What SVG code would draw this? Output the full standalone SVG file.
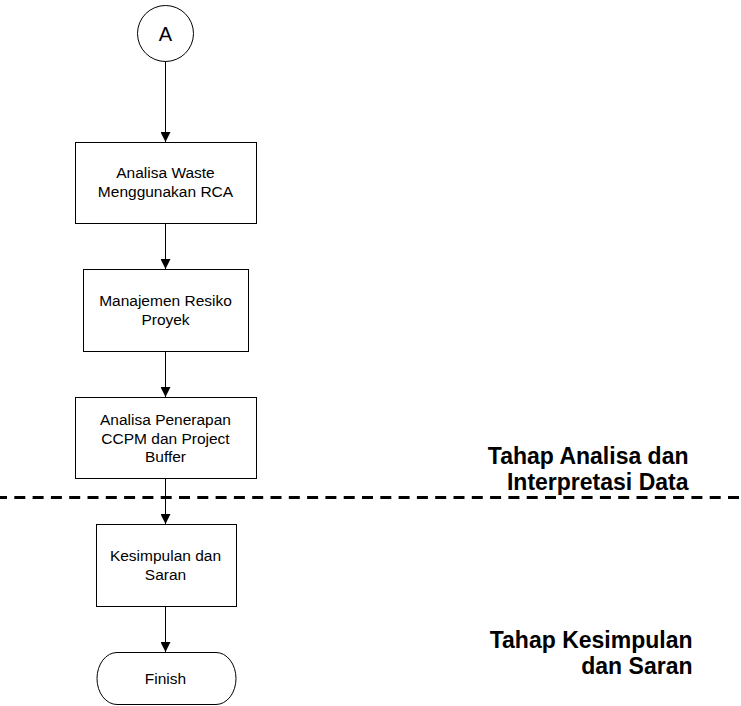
<svg xmlns="http://www.w3.org/2000/svg" width="741" height="706" viewBox="0 0 741 706">
  <defs>
    <marker id="arrow" viewBox="0 0 10 10" refX="10" refY="5" markerWidth="10" markerHeight="10" markerUnits="userSpaceOnUse" orient="auto">
      <path d="M0,0 L10,5 L0,10 Z" fill="#000"/>
    </marker>
    <style>
      .shape { fill: #fff; stroke: #000; stroke-width: 1; }
      .label { font-family: "Liberation Sans", Arial, sans-serif; font-size: 15.5px; fill: #000; text-anchor: middle; }
      .phase { font-family: "Liberation Sans", Arial, sans-serif; font-size: 23px; font-weight: bold; fill: #000; text-anchor: end; }
      .flow { stroke: #000; stroke-width: 1; fill: none; marker-end: url(#arrow); }
    </style>
  </defs>
  <rect width="741" height="706" fill="#fff"/>

  <!-- phase separator -->
  <line x1="0" y1="497.5" x2="741" y2="497.5" stroke="#000" stroke-width="3" stroke-dasharray="11 7.3" stroke-dashoffset="4"/>

  <g id="connectors">
    <line class="flow" x1="165.5" y1="61" x2="165.5" y2="142"/>
    <line class="flow" x1="165.5" y1="223" x2="165.5" y2="269"/>
    <line class="flow" x1="165.5" y1="351" x2="165.5" y2="397"/>
    <line class="flow" x1="165.5" y1="478" x2="165.5" y2="524"/>
    <line class="flow" x1="165.5" y1="606" x2="165.5" y2="652"/>
  </g>

  <g id="connector-a">
    <circle class="shape" cx="165.5" cy="33.5" r="28"/>
    <text class="label" x="165.5" y="41" style="font-size:20px">A</text>
  </g>

  <g id="analisa-waste">
    <rect class="shape" x="75.5" y="142.5" width="181" height="81"/>
    <text class="label" x="165.5" y="178">Analisa Waste</text>
    <text class="label" x="165.5" y="196.5">Menggunakan RCA</text>
  </g>

  <g id="manajemen-resiko">
    <rect class="shape" x="83.5" y="269.5" width="165" height="82"/>
    <text class="label" x="165.5" y="306">Manajemen Resiko</text>
    <text class="label" x="165.5" y="324.5">Proyek</text>
  </g>

  <g id="analisa-ccpm">
    <rect class="shape" x="75.5" y="397.5" width="181" height="81"/>
    <text class="label" x="165.5" y="425">Analisa Penerapan</text>
    <text class="label" x="165.5" y="443.5">CCPM dan Project</text>
    <text class="label" x="165.5" y="462">Buffer</text>
  </g>

  <g id="kesimpulan">
    <rect class="shape" x="96.5" y="524.5" width="140" height="82"/>
    <text class="label" x="165.5" y="561">Kesimpulan dan</text>
    <text class="label" x="165.5" y="579.5">Saran</text>
  </g>

  <g id="finish">
    <path class="shape" d="M117,652.5 H216 A20,26 0 0 1 216,704.5 H117 A20,26 0 0 1 117,652.5 Z"/>
    <text class="label" x="165.5" y="683.5">Finish</text>
  </g>

  <g id="phase-analisa">
    <text class="phase" x="688.5" y="464">Tahap Analisa dan</text>
    <text class="phase" x="688.5" y="489.5">Interpretasi Data</text>
  </g>

  <g id="phase-kesimpulan">
    <text class="phase" x="692.5" y="648">Tahap Kesimpulan</text>
    <text class="phase" x="692.5" y="674">dan Saran</text>
  </g>
</svg>
